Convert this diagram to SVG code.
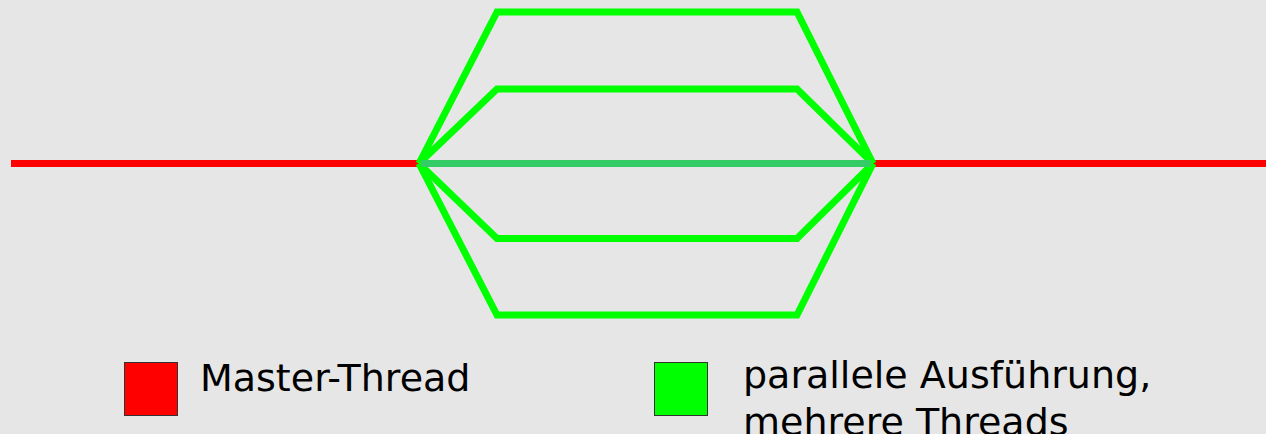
<svg xmlns="http://www.w3.org/2000/svg" width="1266" height="434" viewBox="0 0 1266 434">
<style>
.red{stroke:#ff0000;stroke-width:7;fill:none}
.grn{stroke:#00ff00;stroke-width:7;fill:none;stroke-linejoin:miter}
.mid{stroke:#33cc66;stroke-width:7;fill:none}
.lbl{font-family:"DejaVu Sans",Verdana,sans-serif;font-size:38px;fill:#000}
.box{stroke:#333;stroke-width:1}
</style>
<rect width="1266" height="434" fill="#e6e6e6"/>
<g id="connectors">
<line class="red" x1="11" y1="163.5" x2="419" y2="163.5"/>
<line class="red" x1="873" y1="163.5" x2="1266" y2="163.5"/>
<path class="grn" d="M419,163.5 L497,12 L797,12 L873,163.5"/>
<path class="grn" d="M419,163.5 L497,89 L797,89 L873,163.5"/>
<path class="grn" d="M419,163.5 L497,238.5 L797,238.5 L873,163.5"/>
<path class="grn" d="M419,163.5 L497,315 L797,315 L873,163.5"/>
<line class="mid" x1="421" y1="163.5" x2="871" y2="163.5"/>
</g>
<g id="legend-master">
<rect class="box" x="124.5" y="362.5" width="53" height="53" fill="#ff0000"/>
<text class="lbl" x="200" y="391">Master-Thread</text>
</g>
<g id="legend-parallel">
<rect class="box" x="654.5" y="362.5" width="53" height="53" fill="#00ff00"/>
<text class="lbl" x="743" y="388">parallele Ausführung,</text>
<text class="lbl" x="743" y="435">mehrere Threads</text>
</g>
</svg>
